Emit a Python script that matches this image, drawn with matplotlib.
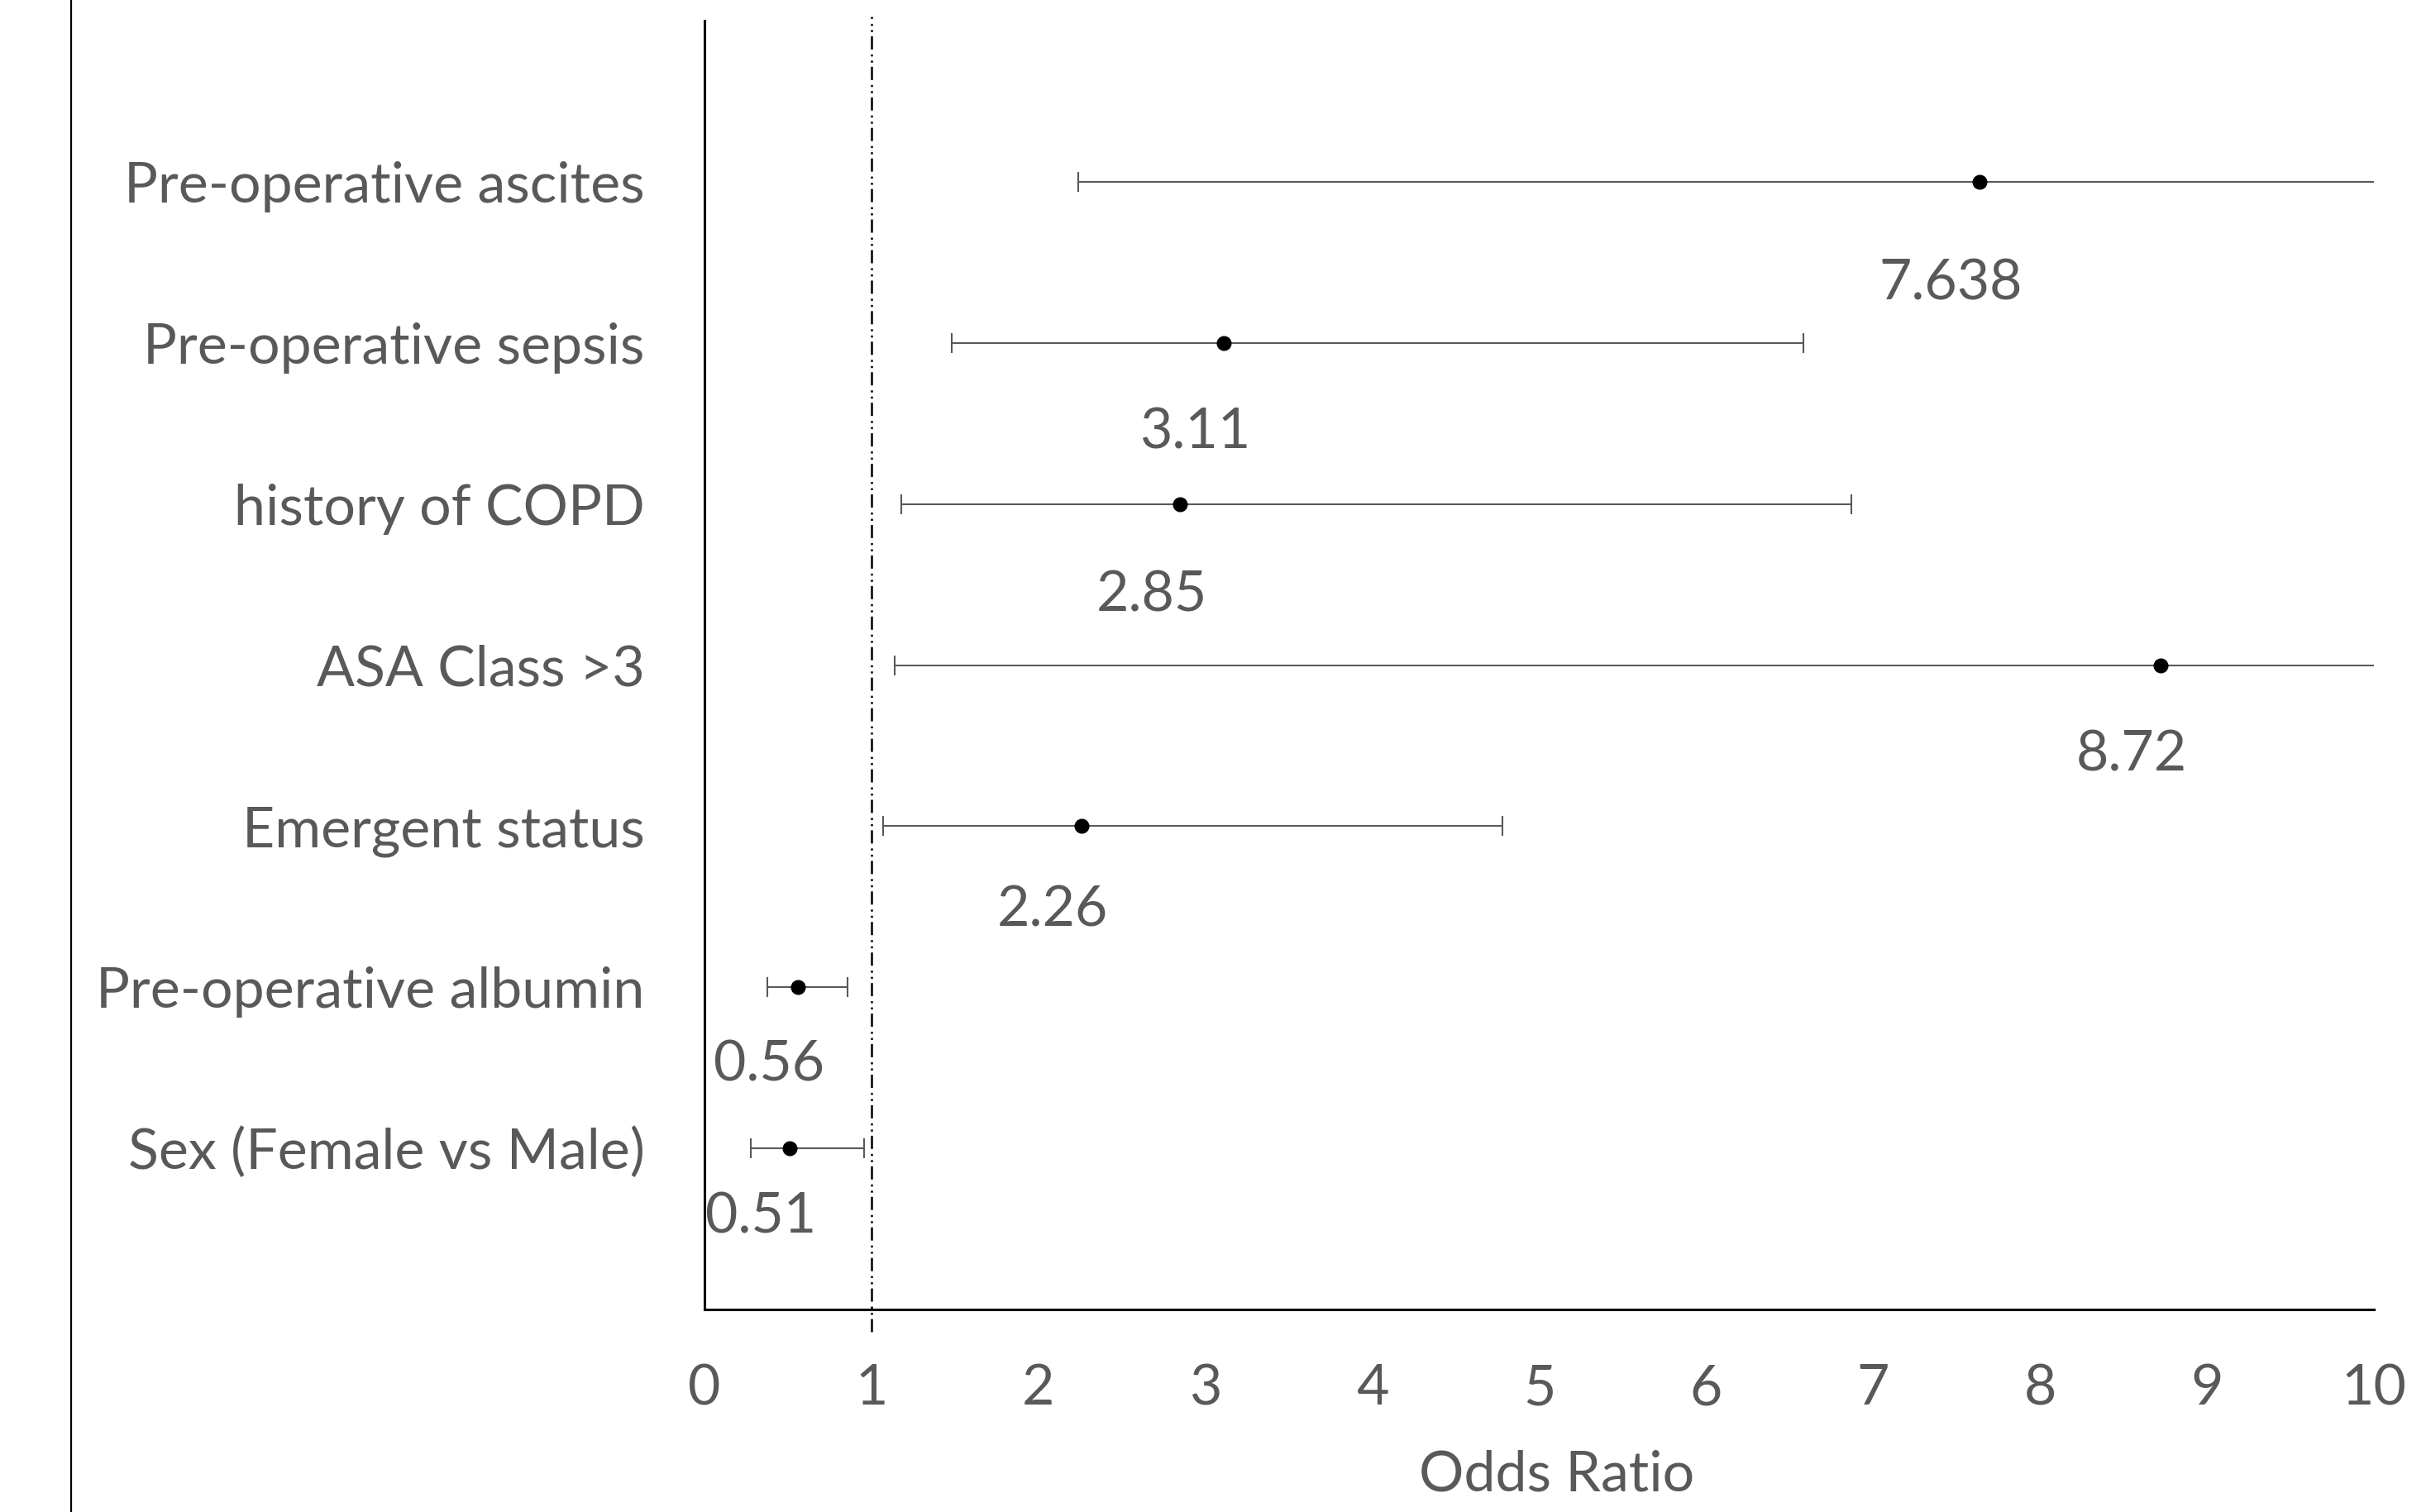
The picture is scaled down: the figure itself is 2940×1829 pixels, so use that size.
# Forest plot de odds ratios con intervalos de confianza.

import numpy as np
import matplotlib.pyplot as plt
from matplotlib.lines import Line2D

# Se definen los datos (de arriba hacia abajo).
variables = ["Pre-operative ascites", "Pre-operative sepsis", "history of COPD",
             "ASA Class >3", "Emergent status", "Pre-operative albumin",
             "Sex (Female vs Male)"]
odds_ratio = [7.638, 3.11, 2.85, 8.72, 2.26, 0.56, 0.51]
ic_inf = [2.24, 1.48, 1.18, 1.14, 1.07, 0.375, 0.275]
# los limites superiores de ascites y ASA quedan fuera del eje (>10), se estiman
ic_sup = [26.0, 6.58, 6.87, 66.0, 4.78, 0.855, 0.955]
etiquetas = ["7.638", "3.11", "2.85", "8.72", "2.26", "0.56", "0.51"]
ticks_x = [0, 1, 2, 3, 4, 5, 6, 7, 8, 9, 10]

# desplazamiento vertical de cada etiqueta (pixeles bajo el punto)
desp_etiqueta = [118, 103, 105, 103, 96, 88, 77]

gris = "#595959"
fuente = ["Lato", "DejaVu Sans"]
tam = 49
plt.rcParams["font.family"] = fuente
plt.rcParams["lines.scale_dashes"] = False

W, H = 2940, 1829
fig = plt.figure(figsize=(W / 100, H / 100), dpi=100)
ax = fig.add_axes([852 / W, 1 - 1584 / H, (2871 - 852) / W, (1584 - 25) / H])

y = np.arange(len(variables), 0, -1)
ors = np.array(odds_ratio)
err = [ors - np.array(ic_inf), np.array(ic_sup) - ors]

ax.errorbar(ors, y, xerr=err, fmt="o", color="black", markersize=12,
            ecolor=gris, elinewidth=1.5, capsize=8.5, capthick=1.5, zorder=3)

# linea de referencia OR = 1
ax.axvline(1, ymin=-0.017, ymax=1.003, color="black", linewidth=1.8,
           linestyle=(0, (11.5, 3.6, 1.8, 3.6, 1.8, 4.3)), clip_on=False, zorder=2)

# etiquetas de valores
for xi, yi, txt, dy in zip(ors, y, etiquetas, desp_etiqueta):
    ax.annotate(txt, (xi, yi), xytext=(-35 * 0.72, -dy * 0.72), textcoords="offset points",
                ha="center", va="center_baseline", fontsize=tam, color=gris)

ax.set_xlim(0, 10)
ax.set_ylim(0, 8)
ax.set_xticks(ticks_x)
ax.set_yticks(y)
ax.set_yticklabels(variables)
ax.tick_params(axis="both", length=0, labelsize=tam, colors=gris)
ax.tick_params(axis="y", pad=52)
ax.tick_params(axis="x", pad=47)
for lab in ax.get_yticklabels():
    lab.set_verticalalignment("center_baseline")

for s in ["top", "right"]:
    ax.spines[s].set_visible(False)
for s in ["left", "bottom"]:
    ax.spines[s].set_linewidth(2.2)
    ax.spines[s].set_color("black")

fig.text(1883 / W, 1 - 1778 / H, "Odds Ratio", ha="center", va="center_baseline",
         fontsize=tam, color=gris)

# linea vertical del borde izquierdo
fig.add_artist(Line2D([86 / W, 86 / W], [0, 1], transform=fig.transFigure,
                      color="black", linewidth=1.6))

fig.savefig("out.png", dpi=100)
